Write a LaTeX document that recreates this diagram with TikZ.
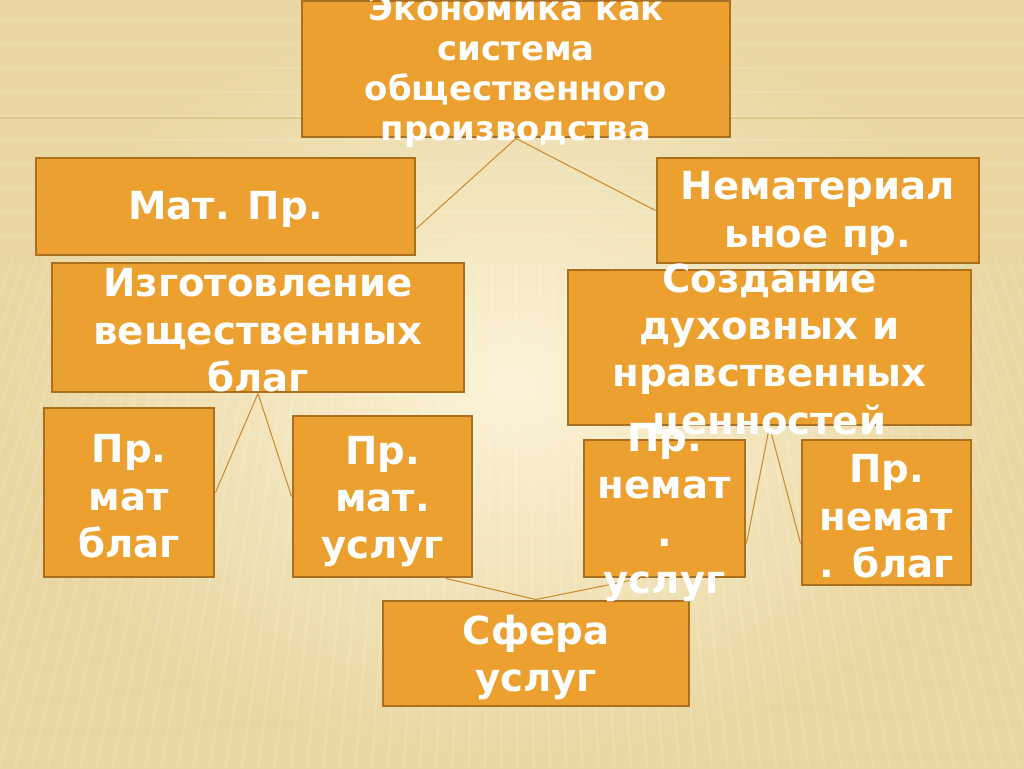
\documentclass[tikz,border=0pt]{standalone}
\usepackage{fontspec}
\setmainfont{DejaVu Sans}
\usetikzlibrary{fit,calc}
\definecolor{boxfill}{RGB}{236,160,48}
\definecolor{boxline}{RGB}{170,112,32}
\definecolor{linkc}{RGB}{205,140,50}
\definecolor{bgin}{RGB}{251,243,214}
\definecolor{bgout}{RGB}{233,214,160}
\definecolor{bgline}{RGB}{222,200,140}
\begin{document}
\begin{tikzpicture}[x=0.75pt,y=-0.75pt,
  box/.style={draw=boxline, line width=2.2pt, fill=boxfill, inner sep=0pt, rectangle},
  txt/.style={text=white, font=\bfseries\fontsize{29}{35.5}\selectfont, align=center, inner sep=0pt},
  txtsmall/.style={text=white, font=\bfseries\fontsize{25.4}{30}\selectfont, align=center, inner sep=0pt},
  link/.style={draw=linkc, line width=0.8pt},
  stripe/.style={draw=white, opacity=0.12, line width=2pt}]
% background
\shade[inner color=bgin, outer color=bgout] (0,0) rectangle (1024,768);
\useasboundingbox (0,0) rectangle (1024,768);
\foreach \i in {0,...,85} {
  \draw[stripe] ({\i*12},260) -- ({\i*12 + (\i*12-512)*0.35},768);
}
\foreach \j in {0,...,9} {
  \draw[stripe] (0,{20+\j*24}) -- (1024,{20+\j*24});
}
\draw[bgline, line width=0.8pt] (0,118) -- (302,118);
\draw[bgline, line width=0.8pt] (730,118) -- (1024,118);

% boxes
\node[box, fit={(302,1)(730,137)}] (top) {};
\node[box, fit={(36,158)(415,255)}] (mat) {};
\node[box, fit={(657,158)(979,263)}] (nemat) {};
\node[box, fit={(52,263)(464,392)}] (izg) {};
\node[box, fit={(568,270)(971,425)}] (sozd) {};
\node[box, fit={(44,408)(214,577)}] (prmb) {};
\node[box, fit={(293,416)(472,577)}] (prmu) {};
\node[box, fit={(584,440)(745,577)}] (pnu) {};
\node[box, fit={(802,440)(971,585)}] (pnb) {};
\node[box, fit={(383,601)(689,706)}] (sfera) {};

% connectors
\draw[link] (top.south) -- ($(mat.north east)!0.72!(mat.south east)$);
\draw[link] (top.south) -- (nemat.west);
\draw[link] (izg.south) -- (prmb.east);
\draw[link] (izg.south) -- (prmu.west);
\draw[link] (sozd.south) -- ($(pnu.north east)!0.75!(pnu.south east)$);
\draw[link] (sozd.south) -- ($(pnb.north west)!0.71!(pnb.south west)$);
\draw[link] (sfera.north) -- ($(prmu.south west)!0.85!(prmu.south east)$);
\draw[link] (sfera.north) -- ($(pnu.south west)!0.35!(pnu.south east)$);

% texts
\node[txtsmall] (ttop) at ($(top.center)+(0,2)$) {Экономика как\\система\\общественного\\производства};
\node[txt] (tmat) at ($(mat.center)+(0,3)$) {Мат. Пр.};
\node[txt] (tnemat) at ($(nemat.center)+(0,3)$) {Нематериал\\ьное пр.};
\node[txt] (tizg) at ($(izg.center)+(0,3)$) {Изготовление\\вещественных\\благ};
\node[txt] (tsozd) at ($(sozd.center)+(0,4)$) {Создание\\духовных и\\нравственных\\ценностей};
\node[txt] (tprmb) at ($(prmb.center)+(0,4)$) {Пр.\\мат\\благ};
\node[txt] (tprmu) at ($(prmu.center)+(0,5)$) {Пр.\\мат.\\услуг};
\node[txt] (tpnu) at ($(pnu.center)+(0,4)$) {Пр.\\немат\\.\\услуг};
\node[txt] (tpnb) at ($(pnb.center)+(0,4)$) {Пр.\\немат\\. благ};
\node[txt] (tsfera) at ($(sfera.center)+(0,4)$) {Сфера\\услуг};
\end{tikzpicture}
\end{document}
